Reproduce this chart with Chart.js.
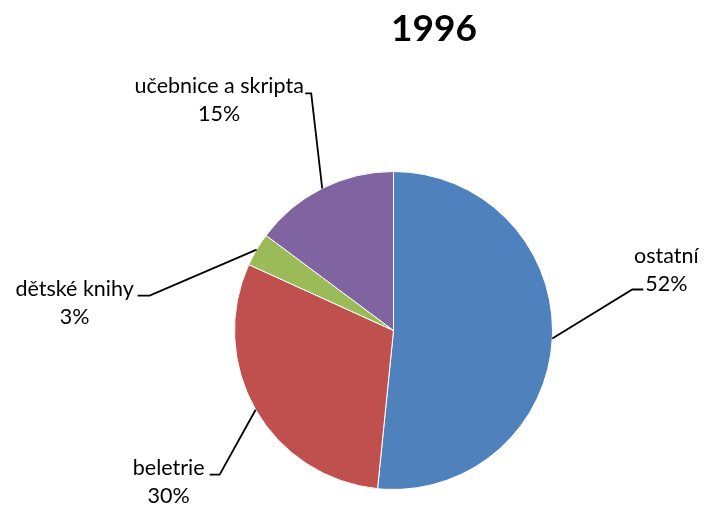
<!DOCTYPE html>
<html>
<head>
<meta charset="utf-8">
<script src="https://cdn.jsdelivr.net/npm/chart.js@4.4.0/dist/chart.umd.min.js"></script>
<style>
  html, body { margin: 0; padding: 0; background: #fff; }
  #wrap { width: 706px; height: 507px; }
</style>
</head>
<body>
<div id="wrap"><canvas id="graf"></canvas></div>
<script>
const title = "1996";
const labels = ["ostatní", "beletrie", "dětské knihy", "učebnice a skripta"];
const values = [51.6, 30.2, 3.4, 14.8];
const colors = ["#4F81BD", "#C0504D", "#9BBB59", "#8064A2"];

// kde lezi popisek vuci bodu na obvodu: stred 1. radku (tx,ty), zlom cary (ex,ey), vodorovny kousek h
const labelPos = [
  { tx: 114, ty: -82, ex: 80, ey: -49, h: 11 },
  { tx: -87, ty: 58, ex: -36, ey: 65, h: -10 },
  { tx: -182, ty: 40, ex: -107, ey: 46, h: -12 },
  { tx: -103, ty: -102, ex: -11, ey: -95, h: -6 }
];

const FONT = "Lato, 'Open Sans', sans-serif";

const popisky = {
  id: "popisky",
  afterDraw(chart) {
    const ctx = chart.ctx;
    const meta = chart.getDatasetMeta(0);
    const total = values.reduce((a, b) => a + b, 0);
    ctx.save();
    meta.data.forEach((arc, i) => {
      const { x, y, startAngle, endAngle, outerRadius } =
        arc.getProps(["x", "y", "startAngle", "endAngle", "outerRadius"], true);
      const mid = (startAngle + endAngle) / 2;
      const ax = x + Math.cos(mid) * outerRadius;
      const ay = y + Math.sin(mid) * outerRadius;
      const p = labelPos[i];

      // vodici cara
      ctx.strokeStyle = "#000";
      ctx.lineWidth = 1.8;
      ctx.beginPath();
      ctx.moveTo(ax, ay);
      ctx.lineTo(ax + p.ex, ay + p.ey);
      ctx.lineTo(ax + p.ex + p.h, ay + p.ey);
      ctx.stroke();

      // text
      ctx.fillStyle = "#000";
      ctx.font = "21.5px " + FONT;
      ctx.textAlign = "center";
      ctx.textBaseline = "middle";
      ctx.fillText(labels[i], ax + p.tx, ay + p.ty);
      ctx.fillText(Math.round(values[i] / total * 100) + "%", ax + p.tx, ay + p.ty + 28);
    });

    // nadpis
    ctx.font = "bold 37px " + FONT;
    ctx.textAlign = "center";
    ctx.textBaseline = "middle";
    ctx.fillText(title, 434, 29);
    ctx.restore();
  }
};

new Chart(document.getElementById("graf"), {
  type: "pie",
  data: {
    labels,
    datasets: [{
      data: values,
      backgroundColor: colors,
      borderColor: "#ffffff",
      borderWidth: 1,
      hoverOffset: 0
    }]
  },
  options: {
    responsive: true,
    maintainAspectRatio: false,
    animation: false,
    layout: { padding: { left: 234, right: 153, top: 171, bottom: 17 } },
    plugins: {
      legend: { display: false },
      tooltip: { enabled: false }
    }
  },
  plugins: [popisky]
});
</script>
</body>
</html>
